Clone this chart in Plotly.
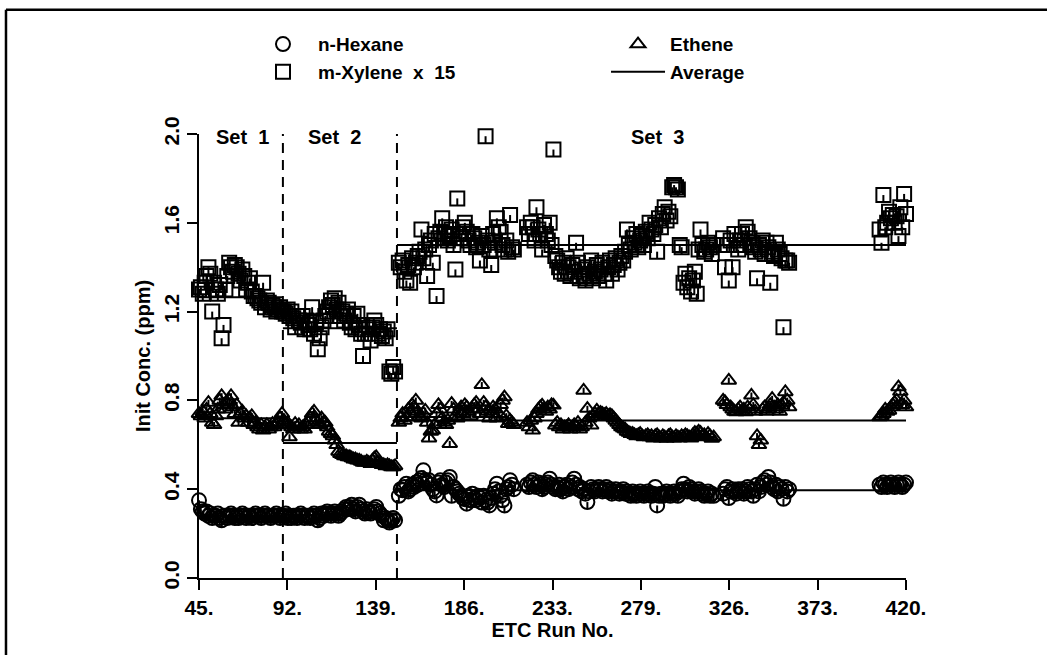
import plotly.graph_objects as go

# ---------------- data ----------------
set1_runs = list(range(45, 90))
set2_runs = list(range(90, 150))
set3a_runs = list(range(151, 213))
set3b_runs = list(range(219, 319))
set3c_runs = list(range(323, 359))
set3d_runs = list(range(406, 421))

xylene_set1 = [1.30, 1.31, 1.28, 1.33, 1.36, 1.40, 1.37, 1.20, 1.33, 1.30,
               1.28, 1.32, 1.08, 1.14, 1.30, 1.36, 1.42, 1.40, 1.38, 1.41,
               1.40, 1.37, 1.34, 1.39, 1.36, 1.30, 1.33, 1.35, 1.29, 1.27,
               1.27, 1.26, 1.25, 1.24, 1.33, 1.22, 1.25, 1.24, 1.21, 1.23,
               1.22, 1.20, 1.21, 1.22, 1.20]
ethene_set1 = [0.74, 0.73, 0.75, 0.72, 0.76, 0.79, 0.74, 0.70, 0.69, 0.73,
               0.76, 0.80, 0.82, 0.78, 0.76, 0.79, 0.80, 0.82, 0.77, 0.74,
               0.78, 0.70, 0.74, 0.75, 0.72, 0.73, 0.70, 0.72, 0.73, 0.69,
               0.70, 0.68, 0.67, 0.69, 0.665, 0.68, 0.69, 0.67, 0.68, 0.695,
               0.68, 0.69, 0.70, 0.72, 0.74]
hexane_set1 = [0.35, 0.31, 0.30, 0.29, 0.30, 0.28, 0.29, 0.27, 0.28, 0.28,
               0.29, 0.27, 0.26, 0.28, 0.28, 0.27, 0.28, 0.29, 0.28, 0.27,
               0.28, 0.27, 0.28, 0.29, 0.28, 0.27, 0.28, 0.28, 0.27, 0.28,
               0.29, 0.28, 0.28, 0.27, 0.28, 0.29, 0.28, 0.28, 0.27, 0.28,
               0.28, 0.29, 0.28, 0.27, 0.28]

xylene_set2 = [1.20, 1.19, 1.21, 1.18, 1.20, 1.17, 1.13, 1.18, 1.16, 1.15,
               1.18, 1.12, 1.16, 1.14, 1.12, 1.22, 1.10, 1.15, 1.03, 1.08,
               1.13, 1.16, 1.18, 1.20, 1.22, 1.25, 1.23, 1.26, 1.21, 1.24,
               1.18, 1.20, 1.16, 1.19, 1.21, 1.15, 1.13, 1.18, 1.12, 1.19,
               1.14, 1.10, 1.00, 1.10, 1.14, 1.12, 1.07, 1.13, 1.16, 1.14,
               1.10, 1.12, 1.09, 1.11, 1.08, 1.12, 0.93, 0.92, 0.95, 0.93]
ethene_set2 = [0.71, 0.69, 0.70, 0.635, 0.68, 0.67, 0.695, 0.68, 0.69, 0.67,
               0.68, 0.67, 0.69, 0.70, 0.72, 0.74, 0.75, 0.71, 0.70, 0.69,
               0.72, 0.70, 0.70, 0.68, 0.66, 0.65, 0.64, 0.62, 0.60, 0.57,
               0.56, 0.555, 0.55, 0.55, 0.545, 0.545, 0.54, 0.535, 0.535, 0.53,
               0.53, 0.525, 0.52, 0.52, 0.525, 0.52, 0.515, 0.53, 0.54, 0.545,
               0.52, 0.515, 0.51, 0.51, 0.505, 0.51, 0.505, 0.50, 0.50, 0.505]
hexane_set2 = [0.28, 0.29, 0.27, 0.28, 0.27, 0.28, 0.28, 0.27, 0.28, 0.29,
               0.28, 0.27, 0.28, 0.28, 0.27, 0.28, 0.29, 0.28, 0.26, 0.27,
               0.29, 0.28, 0.29, 0.30, 0.29, 0.28, 0.29, 0.30, 0.29, 0.28,
               0.29, 0.30, 0.31, 0.32, 0.31, 0.32, 0.33, 0.31, 0.30, 0.32,
               0.33, 0.31, 0.30, 0.29, 0.31, 0.30, 0.29, 0.30, 0.31, 0.32,
               0.30, 0.29, 0.28, 0.26, 0.27, 0.26, 0.25, 0.26, 0.27, 0.26]

xylene_set3a = [1.42, 1.40, 1.43, 1.38, 1.34, 1.41, 1.33, 1.44, 1.40, 1.42,
                1.45, 1.47, 1.57, 1.44, 1.48, 1.36, 1.50, 1.52, 1.42, 1.55,
                1.27, 1.53, 1.56, 1.62, 1.55, 1.58, 1.52, 1.54, 1.57, 1.50,
                1.39, 1.71, 1.55, 1.53, 1.58, 1.60, 1.56, 1.52, 1.50, 1.55,
                1.53, 1.49, 1.51, 1.43, 1.54, 1.50, 1.99, 1.52, 1.48, 1.41,
                1.55, 1.51, 1.62, 1.58, 1.56, 1.50, 1.48, 1.52, 1.47, 1.635,
                1.49, 1.48]
ethene_set3a = [0.70, 0.72, 0.74, 0.71, 0.725, 0.76, 0.74, 0.78, 0.77, 0.80,
                0.75, 0.73, 0.72, 0.74, 0.755, 0.70, 0.63, 0.66, 0.665, 0.69,
                0.74, 0.78, 0.76, 0.72, 0.70, 0.69, 0.71, 0.605, 0.785, 0.76,
                0.73, 0.72, 0.75, 0.77, 0.74, 0.78, 0.77, 0.75, 0.73, 0.76,
                0.78, 0.79, 0.76, 0.74, 0.87, 0.79, 0.77, 0.75, 0.72, 0.74,
                0.77, 0.76, 0.72, 0.74, 0.78, 0.80, 0.815, 0.73, 0.695, 0.71,
                0.70, 0.69]
hexane_set3a = [0.37, 0.40, 0.395, 0.41, 0.425, 0.39, 0.40, 0.42, 0.41, 0.43,
                0.42, 0.44, 0.45, 0.485, 0.44, 0.43, 0.44, 0.42, 0.40, 0.39,
                0.372, 0.43, 0.44, 0.42, 0.41, 0.43, 0.44, 0.455, 0.37, 0.41,
                0.40, 0.39, 0.38, 0.37, 0.36, 0.355, 0.335, 0.37, 0.35, 0.38,
                0.36, 0.35, 0.37, 0.36, 0.34, 0.37, 0.35, 0.34, 0.327, 0.36,
                0.38, 0.40, 0.425, 0.39, 0.37, 0.35, 0.327, 0.40, 0.41, 0.44,
                0.42, 0.40]

xylene_set3b = [1.58, 1.55, 1.60, 1.58, 1.52, 1.67, 1.57, 1.55, 1.48, 1.59,
                1.55, 1.52, 1.60, 1.50, 1.93, 1.45, 1.43, 1.40, 1.38, 1.42,
                1.37, 1.44, 1.40, 1.36, 1.41, 1.38, 1.51, 1.42, 1.35, 1.39,
                1.36, 1.34, 1.40, 1.37, 1.43, 1.35, 1.38, 1.41, 1.36, 1.39,
                1.42, 1.37, 1.34, 1.40, 1.43, 1.37, 1.41, 1.44, 1.39, 1.42,
                1.45, 1.43, 1.47, 1.57, 1.50, 1.48, 1.53, 1.51, 1.55, 1.49,
                1.52, 1.54, 1.50, 1.56, 1.53, 1.60, 1.57, 1.55, 1.59, 1.47,
                1.62, 1.58, 1.64, 1.67, 1.61, 1.65, 1.63, 1.76, 1.77, 1.76,
                1.75, 1.50, 1.49, 1.33, 1.37, 1.31, 1.35, 1.29, 1.34, 1.38,
                1.28, 1.48, 1.57, 1.50, 1.47, 1.48, 1.51, 1.49, 1.46, 1.50]
ethene_set3b = [0.70, 0.68, 0.71, 0.665, 0.72, 0.74, 0.76, 0.77, 0.778, 0.76,
                0.75, 0.77, 0.76, 0.78, 0.778, 0.688, 0.70, 0.68, 0.69, 0.67,
                0.68, 0.68, 0.69, 0.67, 0.68, 0.69, 0.68, 0.70, 0.67, 0.68,
                0.845, 0.70, 0.763, 0.72, 0.688, 0.73, 0.74, 0.755, 0.74, 0.745,
                0.74, 0.735, 0.74, 0.73, 0.735, 0.73, 0.72, 0.71, 0.70, 0.69,
                0.68, 0.675, 0.67, 0.66, 0.655, 0.65, 0.65, 0.645, 0.64, 0.645,
                0.65, 0.64, 0.635, 0.64, 0.645, 0.635, 0.64, 0.63, 0.64, 0.645,
                0.635, 0.63, 0.64, 0.635, 0.628, 0.64, 0.645, 0.635, 0.63, 0.64,
                0.635, 0.63, 0.64, 0.635, 0.645, 0.64, 0.635, 0.63, 0.645, 0.655,
                0.65, 0.66, 0.655, 0.64, 0.645, 0.635, 0.65, 0.64, 0.628, 0.635]
hexane_set3b = [0.42, 0.41, 0.43, 0.44, 0.42, 0.41, 0.43, 0.42, 0.40, 0.41,
                0.42, 0.43, 0.447, 0.42, 0.41, 0.40, 0.41, 0.42, 0.40, 0.39,
                0.41, 0.42, 0.40, 0.41, 0.43, 0.447, 0.42, 0.40, 0.41, 0.39,
                0.40, 0.38, 0.342, 0.39, 0.41, 0.40, 0.39, 0.40, 0.41, 0.40,
                0.39, 0.40, 0.41, 0.39, 0.40, 0.38, 0.39, 0.40, 0.39, 0.38,
                0.39, 0.40, 0.38, 0.39, 0.38, 0.37, 0.39, 0.38, 0.37, 0.38,
                0.39, 0.38, 0.37, 0.38, 0.39, 0.38, 0.37, 0.38, 0.41, 0.327,
                0.37, 0.38, 0.37, 0.38, 0.39, 0.38, 0.37, 0.38, 0.39, 0.38,
                0.37, 0.39, 0.40, 0.425, 0.40, 0.39, 0.41, 0.40, 0.39, 0.38,
                0.39, 0.40, 0.39, 0.38, 0.37, 0.38, 0.39, 0.37, 0.38, 0.37]

xylene_set3c = [1.53, 1.40, 1.50, 1.34, 1.52, 1.40, 1.55, 1.50, 1.48, 1.52,
                1.55, 1.50, 1.58, 1.56, 1.53, 1.51, 1.49, 1.47, 1.35, 1.50,
                1.48, 1.52, 1.46, 1.51, 1.49, 1.33, 1.47, 1.45, 1.51, 1.48,
                1.46, 1.44, 1.13, 1.43, 1.43, 1.42]
ethene_set3c = [0.80, 0.793, 0.78, 0.89, 0.77, 0.76, 0.75, 0.748, 0.76, 0.77,
                0.75, 0.76, 0.748, 0.77, 0.76, 0.823, 0.78, 0.75, 0.64, 0.60,
                0.62, 0.76, 0.77, 0.75, 0.76, 0.78, 0.808, 0.77, 0.76, 0.78,
                0.75, 0.778, 0.79, 0.838, 0.80, 0.77]
hexane_set3c = [0.38, 0.40, 0.41, 0.36, 0.39, 0.40, 0.39, 0.38, 0.40, 0.39,
                0.40, 0.38, 0.39, 0.41, 0.40, 0.39, 0.37, 0.40, 0.42, 0.39,
                0.41, 0.43, 0.44, 0.42, 0.455, 0.43, 0.41, 0.40, 0.42, 0.39,
                0.41, 0.40, 0.357, 0.41, 0.39, 0.40]

xylene_set3d = [1.57, 1.51, 1.725, 1.58, 1.60, 1.65, 1.62, 1.635, 1.60, 1.63,
                1.54, 1.67, 1.58, 1.73, 1.64]
ethene_set3d = [0.725, 0.73, 0.74, 0.76, 0.75, 0.755, 0.77, 0.78, 0.79, 0.80,
                0.86, 0.84, 0.78, 0.80, 0.77]
hexane_set3d = [0.42, 0.41, 0.43, 0.42, 0.41, 0.42, 0.43, 0.42, 0.41, 0.42,
                0.43, 0.42, 0.41, 0.42, 0.43]

# set boundaries and per-set averages
set_bounds = [45, 89.5, 150, 420]
set_names = ["Set  1", "Set  2", "Set  3"]
set_label_x = [68, 117, 288]
avg_hexane = [0.28, 0.285, 0.395]
avg_ethene = [0.72, 0.608, 0.71]
avg_xylene = [1.265, 1.125, 1.50]

x_tick_vals = [45, 91.875, 138.75, 185.625, 232.5, 279.375, 326.25, 373.125, 420]
x_tick_text = ["45.", "92.", "139.", "186.", "233.", "279.", "326.", "373.", "420."]
y_tick_vals = [0.0, 0.4, 0.8, 1.2, 1.6, 2.0]
y_tick_text = ["0.0", "0.4", "0.8", "1.2", "1.6", "2.0"]

# ---------------- assemble ----------------
runs = set1_runs + set2_runs + set3a_runs + set3b_runs + set3c_runs + set3d_runs
hexane = hexane_set1 + hexane_set2 + hexane_set3a + hexane_set3b + hexane_set3c + hexane_set3d
ethene = ethene_set1 + ethene_set2 + ethene_set3a + ethene_set3b + ethene_set3c + ethene_set3d
xylene = xylene_set1 + xylene_set2 + xylene_set3a + xylene_set3b + xylene_set3c + xylene_set3d
assert len(runs) == len(hexane) == len(ethene) == len(xylene)

FONT = "Liberation Sans"
BLACK = "#000000"
MW = 2.0  # marker stroke width

fig = go.Figure()


def marker_trace(y, symbol, size, name, legend, showlegend=True):
    return go.Scatter(
        x=runs, y=y, mode="markers", name=name, legend=legend,
        showlegend=showlegend, cliponaxis=False, hoverinfo="skip",
        marker=dict(symbol=symbol, size=size, color=BLACK,
                    line=dict(color=BLACK, width=MW)),
    )


def tick_trace(y, size, standoff):
    return go.Scatter(
        x=runs, y=y, mode="markers", showlegend=False, cliponaxis=False,
        hoverinfo="skip",
        marker=dict(symbol="line-ns-open", size=size, standoff=standoff,
                    color=BLACK, line=dict(color=BLACK, width=MW)),
    )


fig.add_trace(marker_trace(hexane, "circle-open", 14, "n-Hexane", "legend"))
fig.add_trace(marker_trace(xylene, "square-open", 14, "m-Xylene  x  15", "legend"))
fig.add_trace(marker_trace(ethene, "triangle-up-open", 13, "Ethene", "legend2"))
fig.add_trace(tick_trace(hexane, 5, 3.5))
fig.add_trace(tick_trace(xylene, 5, 3.5))
fig.add_trace(tick_trace(ethene, 4, 0))

# average lines, one segment per set for each compound
avg_x, avg_y = [], []
for series in (avg_hexane, avg_ethene, avg_xylene):
    for i, v in enumerate(series):
        avg_x += [set_bounds[i], set_bounds[i + 1], None]
        avg_y += [v, v, None]
fig.add_trace(go.Scatter(x=avg_x, y=avg_y, mode="lines", name="Average",
                         legend="legend2", hoverinfo="skip",
                         line=dict(color=BLACK, width=2)))

# dashed set separators
for xb in set_bounds[1:3]:
    fig.add_shape(type="line", xref="x", yref="y", x0=xb, x1=xb, y0=0, y1=2.0,
                  line=dict(color=BLACK, width=2, dash="10px,7px"))

# outer frame: only its left and top edges fall inside the picture
fig.add_shape(type="line", xref="paper", yref="paper", x0=-0.273, x1=-0.273,
              y0=-0.19, y1=1.2796, line=dict(color=BLACK, width=2.5))
fig.add_shape(type="line", xref="paper", yref="paper", x0=-0.273, x1=1.2,
              y0=1.2796, y1=1.2796, line=dict(color=BLACK, width=2.5))

for name, xl in zip(set_names, set_label_x):
    fig.add_annotation(x=xl, y=0.993, xref="x", yref="paper", text=name,
                       showarrow=False, xanchor="center", yanchor="middle",
                       font=dict(family=FONT, size=20, color=BLACK, weight="bold"))

axis_font = dict(family=FONT, size=21, color=BLACK, weight="bold")
title_font = dict(family=FONT, size=20, color=BLACK, weight="bold")
legend_font = dict(family=FONT, size=19, color=BLACK, weight="bold")

fig.update_layout(
    width=1047, height=655,
    margin=dict(l=199, r=141, t=134, b=77),
    paper_bgcolor="white", plot_bgcolor="white",
    font=dict(family=FONT, color=BLACK),
    legend=dict(x=0.0693, y=1.245, xanchor="left", yanchor="top",
                orientation="v", bgcolor="rgba(0,0,0,0)", itemwidth=60,
                font=legend_font, tracegroupgap=0),
    legend2=dict(x=0.5757, y=1.245, xanchor="left", yanchor="top",
                 orientation="v", bgcolor="rgba(0,0,0,0)", itemwidth=54,
                 font=legend_font, tracegroupgap=0),
    xaxis=dict(range=[45, 420], tickvals=x_tick_vals, ticktext=x_tick_text,
               showline=True, linecolor=BLACK, linewidth=2, mirror=False,
               ticks="outside", ticklen=10, tickwidth=2, tickcolor=BLACK,
               showgrid=False, zeroline=False, tickfont=axis_font,
               title=dict(text="ETC Run No.", font=title_font, standoff=2)),
    yaxis=dict(range=[0, 2.0], tickvals=y_tick_vals, ticktext=y_tick_text,
               showline=True, linecolor=BLACK, linewidth=2, mirror=False,
               ticks="outside", ticklen=10, tickwidth=2, tickcolor=BLACK,
               showgrid=False, zeroline=False, tickfont=axis_font,
               tickangle=-90,
               title=dict(text="Init Conc. (ppm)", font=title_font, standoff=4)),
)

fig.write_html(
    "out.html",
    config={"displayModeBar": False},
    post_script=(
        "document.documentElement.style.margin='0';"
        "document.documentElement.style.overflow='hidden';"
        "document.body.style.margin='0';"
        "document.body.style.overflow='hidden';"
    ),
)
